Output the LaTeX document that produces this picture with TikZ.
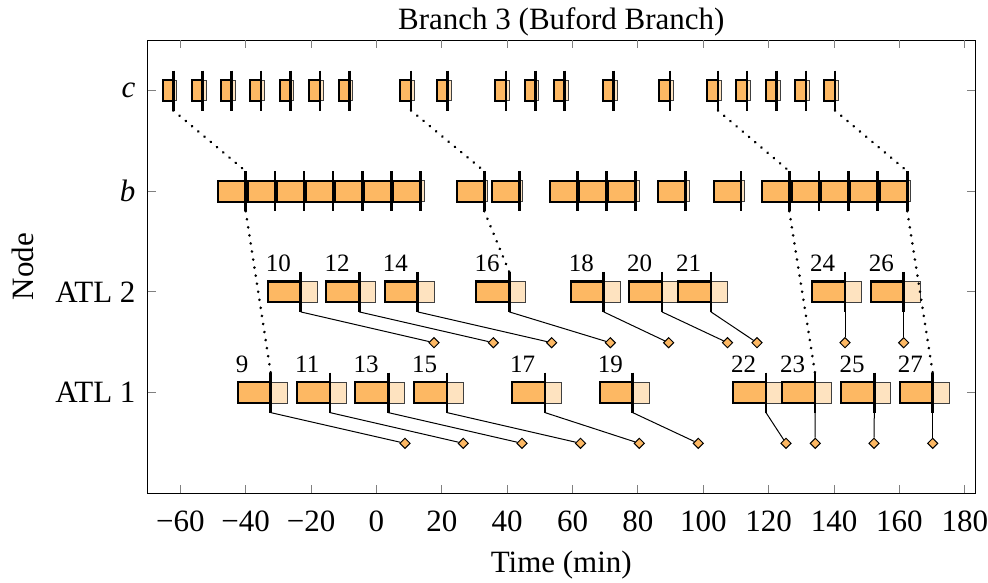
\documentclass[tikz,border=0pt]{standalone}
\usepackage{fontspec}
\setmainfont{Liberation Serif}
\usetikzlibrary{shapes.geometric}
\definecolor{orC}{HTML}{FDB863}
\definecolor{orL}{HTML}{FEE3C0}
\begin{document}
\begin{tikzpicture}[x=0.4pt,y=-0.4pt,
  obox/.style={fill=orC,draw=black,line width=0.85pt},
  lbox/.style={fill=orL,draw=black!75,line width=0.4pt},
  vbar/.style={line width=1pt},
  conn/.style={line width=0.4pt},
  dotsline/.style={line width=1.15pt,dash pattern=on 0.01pt off 3.25pt,line cap=round},
  diam/.style={diamond,fill=orC,draw=black,line width=0.4pt,inner sep=0pt,minimum size=4.2pt},
  lab/.style={font=\fontsize{10}{12}\selectfont,inner sep=0pt,anchor=base west},
  txt/.style={font=\fontsize{12.4}{15}\selectfont,inner sep=0pt},
  tickmark/.style={draw=black!50,line width=0.35pt}]

\useasboundingbox (0,0) rectangle (988,582);

% axis frame
\draw[line width=0.4pt] (147.6,40.2) rectangle (975,493.3);

% x ticks and labels
\foreach \t/\s in {-60/{−60},-40/{−40},-20/{−20},0/0,20/20,40/40,60/60,80/80,100/100,120/120,140/140,160/160,180/180}{
  \draw[tickmark] ({376.4+3.269*\t},493.3) -- ++(0,-8);
  \draw[tickmark] ({376.4+3.269*\t},40.2) -- ++(0,8);
  \node[txt,anchor=base] (xt\t) at ({376.4+3.269*\t},531) {\s};
}

% y ticks
\foreach \y in {90.5,191.2,291.9,392.6}{
  \draw[tickmark] (147.6,\y) -- ++(8,0);
  \draw[tickmark] (975,\y) -- ++(-8,0);
}
\node[txt,anchor=east] (yc) at (136,90.5) {\textit{c}};
\node[txt,anchor=east] (yb) at (136,191.2) {\textit{b}};
\node[txt,anchor=east] (ya2) at (136,291.9) {ATL 2};
\node[txt,anchor=east] (ya1) at (136,392.6) {ATL 1};

% titles
\node[txt,anchor=base] (title) at (561.3,29.3) {Branch 3 (Buford Branch)};
\node[txt,anchor=base] (xlabel) at (561.3,572) {Time (min)};
\node[txt,rotate=90,anchor=base] (ylabel) at (33,266.7) {Node};

% row c
\foreach \L [count=\i] in {173.3,202.7,231.7,261,290.3,320,349.3,411,447.7,506,535.3,564.7,613.7,670,718,747,776.7,806,835}{
  \draw[lbox] (\L,80.1) rectangle ({\L+3.4},100.9);
  \draw[obox] ({\L-10.6},80.1) rectangle (\L,100.9);
  \coordinate (ct\i) at (\L,70.5);
  \coordinate (cb\i) at (\L,110.5);
  \draw[vbar] (ct\i) -- (cb\i);
}

% row b
\foreach \L [count=\i] in {245.7,275,304,333,362.3,391.3,420.7,484.3,519.3,577.7,606.7,635.7,685.7,741,789.3,819,848.3,877.7,907.3}{
  \draw[lbox] (\L,180.8) rectangle ({\L+3.6},201.6);
  \draw[obox] ({\L-27.4},180.8) rectangle (\L,201.6);
  \coordinate (bt\i) at (\L,171.2);
  \coordinate (bb\i) at (\L,211.2);
  \draw[vbar] (bt\i) -- (bb\i);
}

% row ATL 2
\foreach \n/\L/\D in {10/300.7/434,12/359.3/493.3,14/417.7/551.7,16/509.3/610.3,18/603.7/668.7,20/662/727.5,21/711/757,24/845/845,26/903.7/903.7}{
  \draw[lbox] (\L,281.5) rectangle ({\L+16.5},302.3);
  \draw[obox] ({\L-33},281.5) rectangle (\L,302.3);
  \node[lab] (l\n) at ({\L-35.3},271.5) {\n};
  \coordinate (t\n) at (\L,271.9);
  \coordinate (b\n) at (\L,311.9);
  \draw[vbar] (t\n) -- (b\n);
  \node[diam] (d\n) at (\D,342.7) {};
  \draw[conn] (b\n) -- (d\n);
}

% row ATL 1
\foreach \n/\L/\D in {9/270.7/405,11/330/463.3,13/388.3/522,15/447/580.5,17/545/639.3,19/632.7/698.3,22/766/786,23/815/815.3,25/874.3/874,27/932.7/932.7}{
  \draw[lbox] (\L,382.2) rectangle ({\L+16.5},403);
  \draw[obox] ({\L-33},382.2) rectangle (\L,403);
  \node[lab] (l\n) at ({\L-35.3},372) {\n};
  \coordinate (t\n) at (\L,372.6);
  \coordinate (b\n) at (\L,412.6);
  \draw[vbar] (t\n) -- (b\n);
  \node[diam] (d\n) at (\D,443.3) {};
  \draw[conn] (b\n) -- (d\n);
}

% dotted transfers
\draw[dotsline] (cb1) -- (bt1);
\draw[dotsline] (cb8) -- (bt8);
\draw[dotsline] (cb15) -- (bt15);
\draw[dotsline] (cb19) -- (bt19);
\draw[dotsline] (bb1) -- (t9);
\draw[dotsline] (bb8) -- (t16);
\draw[dotsline] (bb15) -- (t23);
\draw[dotsline] (bb19) -- (t27);
\end{tikzpicture}
\end{document}
